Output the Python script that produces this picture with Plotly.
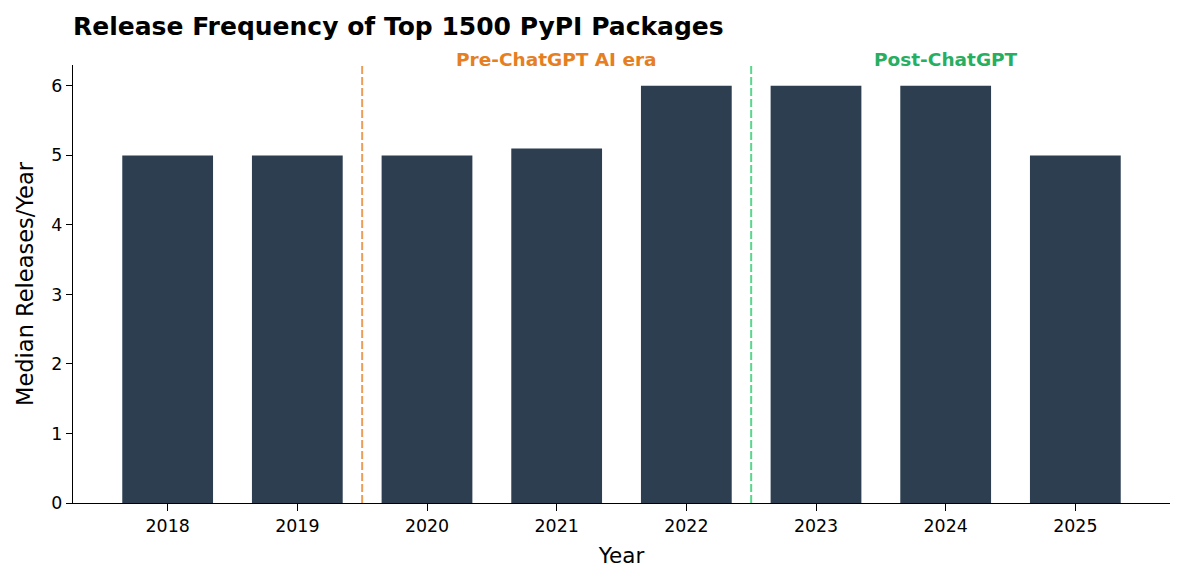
import plotly.graph_objects as go

years = ["2018", "2019", "2020", "2021", "2022", "2023", "2024", "2025"]
median_releases = [5, 5, 5, 5.1, 6, 6, 6, 5]
era_lines = [1.5, 4.5]
era_labels = ["Pre-ChatGPT AI era", "Post-ChatGPT"]
era_label_pos = [3, 6]
era_colors = ["#e67e22", "#27ae60"]
era_line_colors = ["rgba(230,126,34,0.75)", "rgba(46,204,113,0.8)"]

# page body has an 8px margin; compensate so the plot lands where the reference has it
OFF = 8
W, H = 1185 - OFF, 583 - OFF

fig = go.Figure()
fig.add_trace(go.Bar(x=list(range(len(years))), y=median_releases, width=0.7,
                     marker=dict(color="#2c3e50", line=dict(width=0))))

for xv, lc in zip(era_lines, era_line_colors):
    fig.add_shape(type="line", x0=xv, x1=xv, y0=0, y1=1, xref="x", yref="paper",
                  line=dict(color=lc, width=2, dash="8px,3px"))
for txt, xp, c in zip(era_labels, era_label_pos, era_colors):
    fig.add_annotation(x=xp, y=1.0, xref="x", yref="paper", text="<b>%s</b>" % txt,
                       showarrow=False, yanchor="bottom", yshift=-7,
                       font=dict(color=c, size=18.5, family="DejaVu Sans"))

fig.update_layout(
    width=W, height=H,
    margin=dict(l=73 - OFF, r=15, t=65 - OFF, b=80),
    plot_bgcolor="white", paper_bgcolor="white",
    font=dict(family="DejaVu Sans", color="black"),
    showlegend=False,
    title=dict(text="<b>Release Frequency of Top 1500 PyPI Packages</b>", x=(73 - OFF) / W, xanchor="left",
               y=1 - (26 - OFF) / H, yanchor="middle", font=dict(size=25, color="black")),
    xaxis=dict(range=[-0.73, 7.73], tickmode="array", tickvals=list(range(len(years))), ticktext=years,
               showline=True, linecolor="black", linewidth=1.2, ticks="outside", ticklen=7,
               tickcolor="black", tickwidth=1.2, tickfont=dict(size=17.4), showgrid=False, zeroline=False,
               title=dict(text="Year", font=dict(size=21.5), standoff=12)),
    yaxis=dict(range=[0, 6.3], dtick=1, showline=True, linecolor="black", linewidth=1.2,
               ticks="outside", ticklen=6, tickcolor="black", tickwidth=1.2, tickfont=dict(size=17.4),
               showgrid=False, zeroline=False,
               title=dict(text="Median Releases/Year", font=dict(size=22.5), standoff=11)),
)

fig.write_html("out.html")
